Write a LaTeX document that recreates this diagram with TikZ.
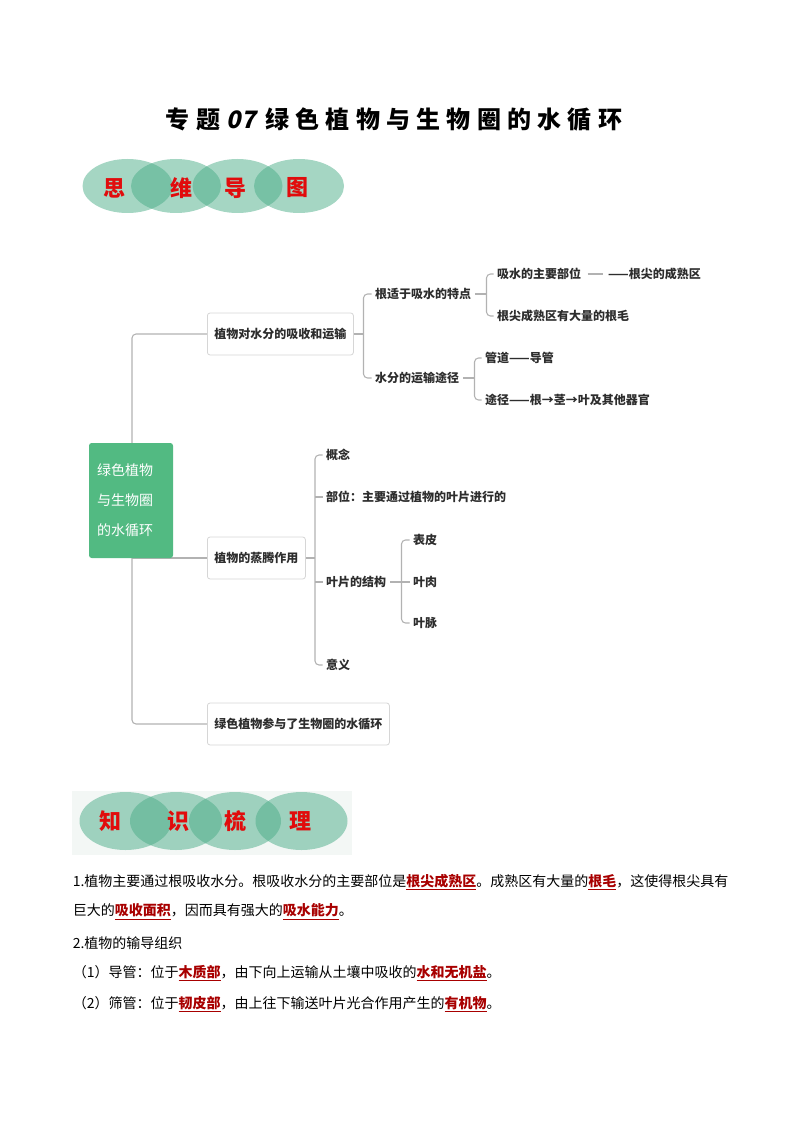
\documentclass[tikz,border=0pt]{standalone}
\usepackage{fontspec}
\setmainfont{Noto Sans CJK SC}
\usetikzlibrary{backgrounds}

\definecolor{linkgray}{RGB}{178,178,178}
\definecolor{boxgray}{RGB}{214,214,214}
\definecolor{rootgreen}{RGB}{82,186,130}
\definecolor{ovalgreen}{RGB}{75,173,136}
\definecolor{badgered}{RGB}{225,12,12}
\definecolor{keyred}{RGB}{168,0,0}
\definecolor{textgray}{RGB}{45,45,45}
\definecolor{badgebg}{RGB}{243,247,245}

\newcommand{\keyword}[1]{{\color{keyred}\underline{\textbf{#1}}}}

\begin{document}
\begin{tikzpicture}[x=0.75pt, y=-0.75pt,
    link/.style={draw=linkgray, line width=0.8pt, rounded corners=3pt},
    topic/.style={draw=boxgray, fill=white, rounded corners=2pt, line width=0.6pt,
        anchor=west, minimum height=31.5pt, inner xsep=5.25pt, text=textgray,
        font=\fontsize{9}{11}\selectfont\bfseries},
    leaf/.style={anchor=west, inner xsep=2.6pt, inner ysep=1pt, text=textgray,
        font=\fontsize{9}{11}\selectfont\bfseries},
    badgetext/.style={text=badgered, font=\fontsize{16.5}{18}\selectfont\bfseries},
    bodytext/.style={anchor=west, inner sep=0pt, text=black,
        font=\fontsize{10.5}{12}\selectfont}]
    \useasboundingbox (0,0) rectangle (794,1123);

    % title
    \node[font=\fontsize{18}{21}\selectfont\bfseries] (title) at (394,119)
        {{\addfontfeature{LetterSpace=26}专题}\hspace{5pt}{\addfontfeature{FakeSlant=0.2}07}\hspace{7pt}{\addfontfeature{LetterSpace=26}绿色植物与生物圈的水循环}};

    % badge: mind map
    \foreach \cx in {127.5,176,237.5,299}
        \fill[ovalgreen, opacity=0.5] (\cx,186) ellipse [x radius=45, y radius=27];
    \node[badgetext] (si)  at (114,188) {思};
    \node[badgetext] (wei) at (181,188) {维};
    \node[badgetext] (dao) at (235,188) {导};
    \node[badgetext] (tu)  at (297,188) {图};

    % mind map
    \coordinate (trunk) at (132,0);
    \node[fill=rootgreen, rounded corners=2pt, minimum width=63pt, minimum height=86.25pt,
        text width=51pt, align=left, inner xsep=6pt, text=white,
        font=\fontsize{10.5}{22.5}\selectfont] (root) at (131,500.5)
        {绿色植物\\与生物圈\\的水循环};

    \node[topic] (b1) at (207,334) {植物对水分的吸收和运输};
    \node[topic] (b2) at (207,558) {植物的蒸腾作用};
    \node[topic] (b3) at (207,724) {绿色植物参与了生物圈的水循环};

    \node[leaf] (k1) at (371.5,294) {根适于吸水的特点};
    \node[leaf] (k2) at (371.5,378) {水分的运输途径};
    \node[leaf] (m1) at (493.5,274) {吸水的主要部位};
    \node[leaf] (m2) at (493.5,316) {根尖成熟区有大量的根毛};
    \node[leaf] (m3) at (604.5,274) {——根尖的成熟区};
    \node[leaf] (m4) at (481.5,358) {管道——导管};
    \node[leaf] (m5) at (481.5,400) {途径——根→茎→叶及其他器官};

    \node[leaf] (p1) at (322.5,455) {概念};
    \node[leaf] (p2) at (322.5,497) {部位：主要通过植物的叶片进行的};
    \node[leaf] (p3) at (322.5,582) {叶片的结构};
    \node[leaf] (p4) at (322.5,665) {意义};
    \node[leaf] (q1) at (409.5,540) {表皮};
    \node[leaf] (q2) at (409.5,582) {叶肉};
    \node[leaf] (q3) at (409.5,623) {叶脉};

    \coordinate (j1) at (363.5,0);
    \coordinate (j2) at (486.5,0);
    \coordinate (j3) at (474.5,0);
    \coordinate (j4) at (315,0);
    \coordinate (j5) at (401.5,0);

    \begin{scope}[on background layer]
        \draw[link] (b1.west) -- (b1.west -| trunk) -- (b3.west -| trunk) -- (b3.west);
        \draw[link] (b2.west -| trunk) -- (b2.west);
        % water uptake
        \draw[link] (b1.east) -- (b1.east -| j1);
        \draw[link] (k1.west) -- (k1.west -| j1) -- (k2.west -| j1) -- (k2.west);
        \draw[link] (k1.east) -- (k1.east -| j2);
        \draw[link] (m1.west) -- (m1.west -| j2) -- (m2.west -| j2) -- (m2.west);
        \draw[link, shorten <=2pt, shorten >=1pt] (m1.east) -- (m3.west);
        \draw[link] (k2.east) -- (k2.east -| j3);
        \draw[link] (m4.west) -- (m4.west -| j3) -- (m5.west -| j3) -- (m5.west);
        % transpiration
        \draw[link] (b2.east) -- (b2.east -| j4);
        \draw[link] (p1.west) -- (p1.west -| j4) -- (p4.west -| j4) -- (p4.west);
        \draw[link] (p2.west -| j4) -- (p2.west);
        \draw[link] (p3.west -| j4) -- (p3.west);
        \draw[link] (p3.east) -- (p3.east -| j5);
        \draw[link] (q1.west) -- (q1.west -| j5) -- (q3.west -| j5) -- (q3.west);
        \draw[link] (q2.west -| j5) -- (q2.west);
    \end{scope}

    % badge: knowledge
    \fill[badgebg] (72,791) rectangle (352,855);
    \foreach \cx in {125.5,176,235,301.5}
        \fill[ovalgreen, opacity=0.5] (\cx,821) ellipse [x radius=46, y radius=29];
    \node[badgetext] (zhi)  at (110,821.5) {知};
    \node[badgetext] (shi)  at (178,821.5) {识};
    \node[badgetext] (shu)  at (235,821.5) {梳};
    \node[badgetext] (li)   at (300,821.5) {理};

    % notes
    \node[bodytext] (line1) at (72.5,882) {1.植物主要通过根吸收水分。根吸收水分的主要部位是\keyword{根尖成熟区}。成熟区有大量的\keyword{根毛}，这使得根尖具有};
    \node[bodytext] (line2) at (72.5,912) {巨大的\keyword{吸收面积}，因而具有强大的\keyword{吸水能力}。};
    \node[bodytext] (line3) at (72.5,943) {2.植物的输导组织};
    \node[bodytext] (line4) at (72.5,973) {（1）导管：位于\keyword{木质部}，由下向上运输从土壤中吸收的\keyword{水和无机盐}。};
    \node[bodytext] (line5) at (72.5,1004) {（2）筛管：位于\keyword{韧皮部}，由上往下输送叶片光合作用产生的\keyword{有机物}。};
\end{tikzpicture}
\end{document}
